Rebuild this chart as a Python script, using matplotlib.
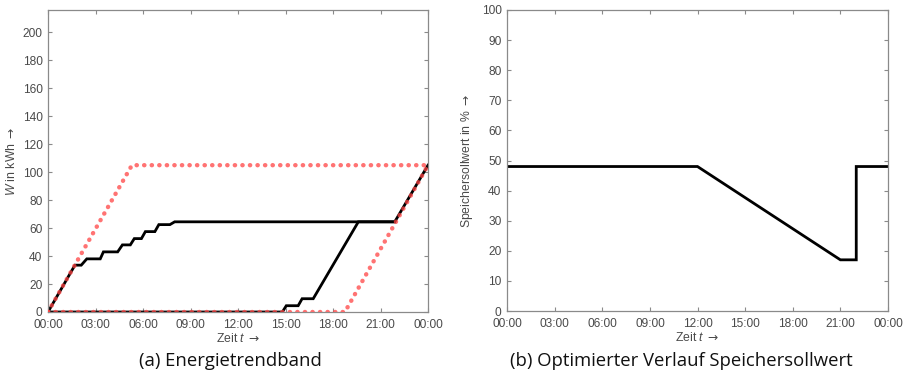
import matplotlib
matplotlib.use("Agg")
import matplotlib.pyplot as plt

plt.rcParams["mathtext.fontset"] = "custom"
plt.rcParams["mathtext.it"] = "Liberation Sans:italic"
plt.rcParams["mathtext.rm"] = "DejaVu Sans"

# Time axis in hours since midnight
tick_hours = [0, 3, 6, 9, 12, 15, 18, 21, 24]
tick_labels = ["00:00", "03:00", "06:00", "09:00", "12:00", "15:00", "18:00", "21:00", "00:00"]

# (a) Energy trend band: bounds (red) and trajectories (black), kWh
upper_bound_t = [0.0, 5.3, 24.0]
upper_bound_w = [0.0, 105.0, 105.0]
lower_bound_t = [0.0, 18.75, 24.0]
lower_bound_w = [0.0, 0.0, 105.0]

early_t = [0.0, 1.7, 2.1, 2.45, 3.3, 3.5, 4.4, 4.7, 5.2, 5.45, 5.9, 6.15, 6.75, 7.0, 7.7, 8.0, 21.9, 24.0]
early_w = [0.0, 33.5, 33.5, 38.0, 38.0, 43.0, 43.0, 48.0, 48.0, 52.5, 52.5, 57.5, 57.5, 62.5, 62.5, 64.5, 64.5, 105.0]
late_t = [0.0, 14.8, 15.05, 15.8, 16.05, 16.75, 19.6, 21.9]
late_w = [0.0, 0.0, 4.5, 4.5, 9.5, 9.5, 64.5, 64.5]

# (b) Optimised storage set point, %
setpoint_t = [0.0, 12.0, 21.0, 22.0, 22.0, 24.0]
setpoint_v = [48.0, 48.0, 17.0, 17.0, 48.0, 48.0]

TICK_FONT = ["Liberation Sans", "DejaVu Sans"]
GRAY = "#4a4a4a"
SPINE = "#8a8a8a"
RED = "#ff4444"

fig = plt.figure(figsize=(9.1, 3.71), dpi=100)


def style_axes(ax, ymax, ystep):
    ax.set_xlim(0, 24)
    ax.set_ylim(0, ymax)
    ax.set_xticks(tick_hours)
    ax.set_xticklabels(tick_labels)
    ax.set_yticks(range(0, int(ymax) + 1, ystep))
    ax.tick_params(direction="in", length=3, width=0.8, color=SPINE,
                   labelcolor=GRAY, labelsize=8.6, top=True, right=True)
    ax.tick_params(axis="x", pad=5)
    ax.tick_params(axis="y", pad=4)
    for lbl in ax.get_xticklabels() + ax.get_yticklabels():
        lbl.set_fontfamily(TICK_FONT)
    for s in ax.spines.values():
        s.set_color(SPINE)
        s.set_linewidth(0.9)
    ax.set_xlabel("Zeit $t$ $\\rightarrow$", fontfamily=TICK_FONT, fontsize=8.8,
                  color=GRAY, labelpad=1)


# Panel (a)
ax1 = fig.add_axes([48 / 910, 59 / 371, 380 / 910, 302 / 371])
ax1.plot(early_t, early_w, color="black", lw=2.0, solid_joinstyle="miter", zorder=2)
ax1.plot(late_t, late_w, color="black", lw=2.0, solid_joinstyle="miter", zorder=2)
for bt, bw in ((upper_bound_t, upper_bound_w), (lower_bound_t, lower_bound_w)):
    ax1.plot(bt, bw, color=RED, alpha=0.75, lw=3.2, linestyle=(0, (0.05, 1.65)),
             dash_capstyle="round", zorder=3)
style_axes(ax1, 216, 20)
ax1.set_ylabel("$W$ in kWh $\\rightarrow$", fontfamily=TICK_FONT, fontsize=8.8,
               color=GRAY, labelpad=3)

# Panel (b)
ax2 = fig.add_axes([507 / 910, 60 / 371, 381 / 910, 301 / 371])
ax2.plot(setpoint_t, setpoint_v, color="black", lw=2.0, solid_joinstyle="miter")
style_axes(ax2, 100, 10)
ax2.set_ylabel("Speichersollwert in % $\\rightarrow$", fontfamily=TICK_FONT,
               fontsize=8.8, color=GRAY, labelpad=5)

fig.text(230 / 910, 1 - 361 / 371, "(a) Energietrendband", ha="center", va="center",
         fontfamily="Open Sans", fontsize=13.3, color="#111111")
fig.text(681 / 910, 1 - 361 / 371, "(b) Optimierter Verlauf Speichersollwert",
         ha="center", va="center", fontfamily="Open Sans", fontsize=13.3, color="#111111")

fig.savefig("out.png", dpi=100, facecolor="white")
